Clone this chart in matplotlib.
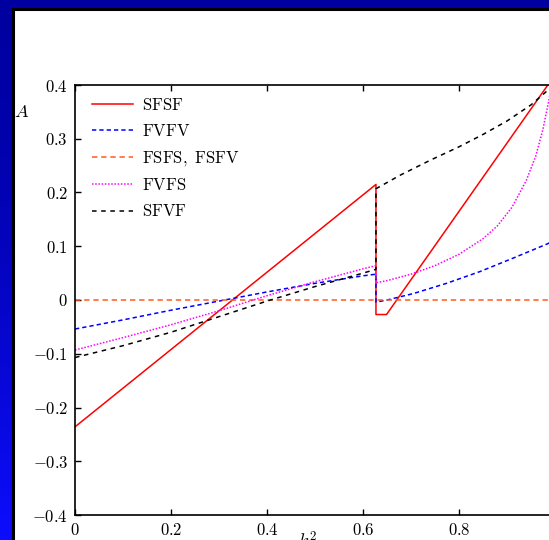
import numpy as np
import matplotlib
matplotlib.use("Agg")
import matplotlib.pyplot as plt
from matplotlib.patches import Rectangle
from matplotlib.ticker import FuncFormatter, MultipleLocator, FixedLocator


# ===================================================
# DATA
# ===================================================

# SFSF (red, solid)
sfsf_x = [0.0, 0.627, 0.627, 0.649, 1.0]
sfsf_y = [-0.236, 0.215, -0.027, -0.027, 0.419]

# FVFV (blue, dashed)
fvfv_x = [0.0, 0.1, 0.2, 0.3, 0.4, 0.5, 0.6, 0.627, 0.627, 0.65, 0.705,
          0.774, 0.844, 0.913, 0.983, 1.0]
fvfv_y = [-0.054, -0.037, -0.019, -0.002, 0.015, 0.031, 0.045, 0.048, -0.004,
          0.0, 0.012, 0.031, 0.053, 0.078, 0.104, 0.111]

# FSFS, FSFV (orange, dashed)
fsfs_x = [0.0, 1.0]
fsfs_y = [0.0, 0.0]

# FVFS (magenta, dotted)
fvfs_x = [0.0, 0.1, 0.2, 0.3, 0.4, 0.5, 0.6, 0.627, 0.627, 0.65, 0.70,
          0.75, 0.80, 0.85, 0.88, 0.91, 0.94, 0.96, 0.975, 0.988, 1.0]
fvfs_y = [-0.093, -0.070, -0.046, -0.020, 0.008, 0.034, 0.058, 0.064, 0.032,
          0.036, 0.048, 0.064, 0.085, 0.114, 0.138, 0.172, 0.222, 0.268, 0.318,
          0.375, 0.44]

# SFVF (black, dashed)
sfvf_x = [0.0, 0.1, 0.2, 0.3, 0.4, 0.5, 0.6, 0.627, 0.627, 0.677, 0.74,
          0.80, 0.85, 0.90, 0.95, 0.986, 1.0]
sfvf_y = [-0.107, -0.085, -0.060, -0.031, -0.002, 0.025, 0.050, 0.057, 0.207,
          0.232, 0.260, 0.285, 0.308, 0.333, 0.363, 0.391, 0.403]

X_TICKS = [0.0, 0.2, 0.4, 0.6, 0.8]


# ===================================================
# STYLE
# ===================================================

plt.rcParams["mathtext.fontset"] = "cm"
plt.rcParams["font.family"] = ["DejaVu Serif"]

W, H = 549, 540
fig = plt.figure(figsize=(W / 100, H / 100), dpi=100)

# slide-like background: blue gradient with white panel
bg = fig.add_axes([0, 0, 1, 1], zorder=-10)
grad = np.linspace(0, 1, 256).reshape(-1, 1)
top_col = np.array([0.0, 0.0, 0.63])
bot_col = np.array([0.05, 0.05, 1.0])
img = top_col + (bot_col - top_col) * grad[..., None] ** 1.5
bg.imshow(img, aspect="auto", extent=[0, 1, 0, 1], origin="upper")
bg.add_patch(Rectangle((12.5 / W, -0.1), 1.2, 1.1 - 8.5 / H,
                       facecolor="white", edgecolor="black", linewidth=2.2))
bg.set_xlim(0, 1)
bg.set_ylim(0, 1)
bg.axis("off")

# main axes (right edge runs past the picture)
ax = fig.add_axes([75 / W, 1 - 515 / H, 480 / W, 430 / H])
ax.set_facecolor("none")

lw = 1.1
ax.plot(sfsf_x, sfsf_y, color="red", lw=lw, label=r"$\mathrm{SFSF}$")
ax.plot(fvfv_x, fvfv_y, color="blue", lw=lw, dashes=(2.8, 2.0),
        label=r"$\mathrm{FVFV}$")
ax.plot(fsfs_x, fsfs_y, color="#ff5a1e", lw=lw, dashes=(3.5, 2.5),
        label=r"$\mathrm{FSFS,\ FSFV}$")
ax.plot(fvfs_x, fvfs_y, color="magenta", lw=lw, dashes=(1, 1.1),
        label=r"$\mathrm{FVFS}$")
ax.plot(sfvf_x, sfvf_y, color="black", lw=lw, dashes=(3, 3),
        label=r"$\mathrm{SFVF}$")

ax.set_xlim(0, 1)
ax.set_ylim(-0.4, 0.4)
ax.xaxis.set_major_locator(FixedLocator(X_TICKS))
ax.yaxis.set_major_locator(MultipleLocator(0.1))


def fmt(v, pos):
    if abs(v) < 1e-9:
        return r"$0$"
    return r"$%g$" % round(v, 2)


ax.xaxis.set_major_formatter(FuncFormatter(fmt))
ax.yaxis.set_major_formatter(FuncFormatter(fmt))
ax.tick_params(direction="in", length=4, width=1, top=True, right=True,
               labelsize=12, pad=5)
for s in ax.spines.values():
    s.set_linewidth(1.2)

ax.legend(loc="upper left", bbox_to_anchor=(5 / 480, 1.0), frameon=False,
          fontsize=12, handlelength=2.5, handletextpad=0.5, labelspacing=0.55,
          borderaxespad=0.4, borderpad=0.3)

fig.text(14 / W, 1 - 112 / H, r"$A$", fontsize=13, va="center", ha="left")
fig.text(298 / W, 1 - 531 / H, r"$k^{2}$", fontsize=13, va="top", ha="left")

fig.savefig("out.png", dpi=100)
